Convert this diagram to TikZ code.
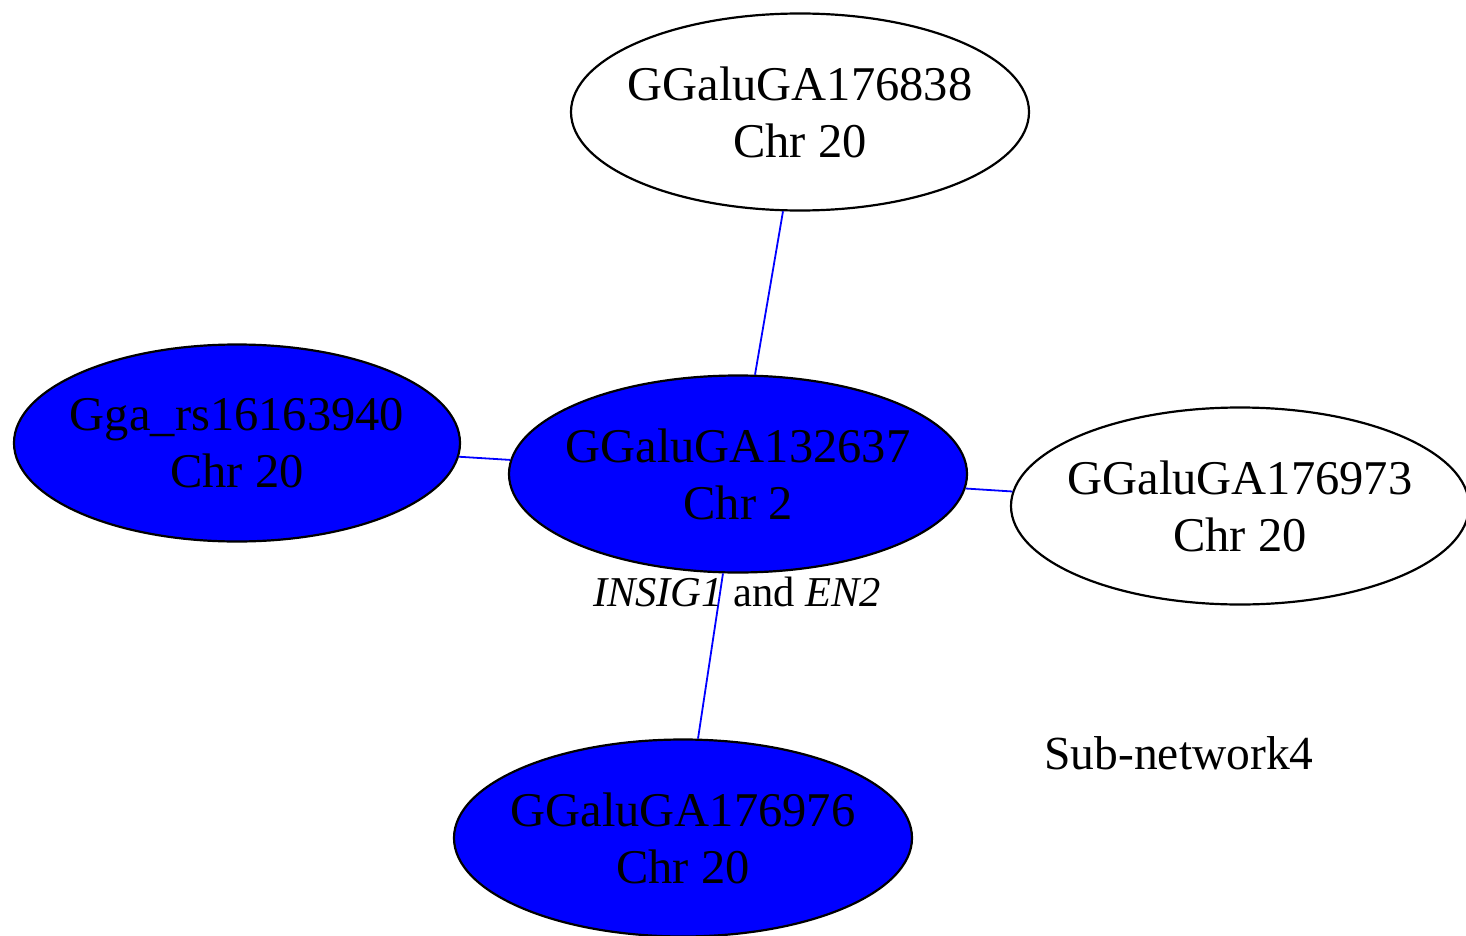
\documentclass[tikz,border=0pt]{standalone}
\usepackage{fontspec}
\setmainfont{Liberation Serif}
\usetikzlibrary{shapes.geometric}
\definecolor{nodeblue}{RGB}{0,0,255}
\tikzset{
  gnode/.style={ellipse, draw=black, line width=2.2pt, inner sep=0pt,
    minimum width=458pt, minimum height=197pt},
  gtext/.style={align=center, inner sep=0pt, font=\fontsize{48.5}{57}\selectfont},
  glabel/.style={label={[gtext]center:{#1}}},
  bluenode/.style={gnode, fill=nodeblue},
  whitenode/.style={gnode, fill=white},
  link/.style={draw=nodeblue, line width=1.8pt},
  plain/.style={inner sep=0pt, font=\fontsize{47.5}{54}\selectfont}
}
\begin{document}
\begin{tikzpicture}[x=1pt,y=-1pt]
\useasboundingbox[fill=white] (0,0) rectangle (1466,936);
\node[whitenode, glabel={GGaluGA176838\\Chr 20}] (top) at (800,112) {};
\node[bluenode, minimum width=446pt, glabel={Gga\_rs16163940\\Chr 20}] (left) at (237,443) {};
\node[bluenode, glabel={GGaluGA132637\\Chr 2}] (mid) at (738,474) {};
\node[whitenode, glabel={GGaluGA176973\\Chr 20}] (right) at (1240,506) {};
\node[bluenode, glabel={GGaluGA176976\\Chr 20}] (bot) at (683,838) {};
\draw[link] (top) -- (mid);
\draw[link] (left) -- (mid);
\draw[link] (mid) -- (right);
\draw[link] (mid) -- (bot);
\node[plain, font=\fontsize{42.5}{50}\selectfont] (genes) at (737,592) {\textit{INSIG1} and \textit{EN2}};
\node[plain] (title) at (1179,753) {Sub-network4};
\end{tikzpicture}
\end{document}
